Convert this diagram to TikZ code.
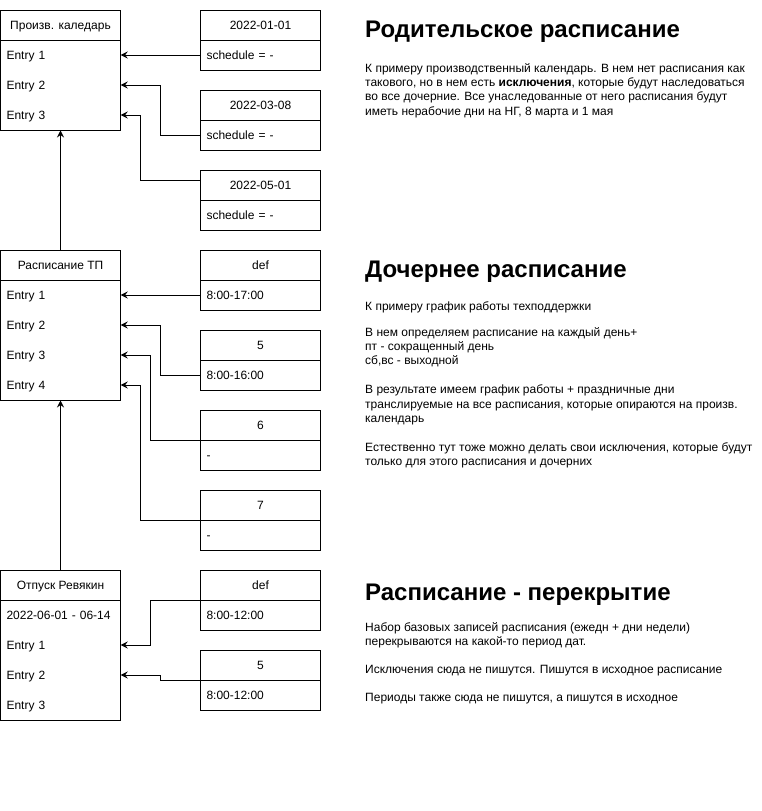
\documentclass[tikz,border=0pt]{standalone}
\usepackage{fontspec}
\setmainfont{Liberation Sans}
\usetikzlibrary{arrows.meta}
\tikzset{
 fs/.style={font=\fontsize{12}{14.4}\selectfont},
 hdr/.style={draw, line width=1pt, minimum width=120pt, minimum height=30pt, inner sep=0pt, text height=9pt, text depth=1pt, fs},
 row/.style={minimum width=120pt, minimum height=30pt, inner xsep=6pt, inner ysep=0pt, text width=108pt, text height=9pt, text depth=1pt, align=left, fs},
 rbody/.style={row, draw, line width=1pt},
 frame/.style={draw, line width=1pt, minimum width=120pt, inner sep=0pt},
 arr/.style={line width=1pt, -{Stealth[length=7pt,width=7pt,inset=2.5pt]}},
 title/.style={anchor=base west, inner sep=0pt, font=\fontsize{24}{28.8}\selectfont\bfseries},
 txt/.style={anchor=base west, inner sep=0pt, fs},
}
\begin{document}
\begin{tikzpicture}[x=1pt,y=-1pt]
\useasboundingbox (0,0) rectangle (761,811);
% box 1
\node[hdr] (ph) at (60.5,25) {Произв. каледарь};
\node[frame, minimum height=90pt] (pbody) at (60.5,85) {};
\node[row] (pe1) at (60.5,55) {Entry 1};
\node[row] (pe2) at (60.5,85) {Entry 2};
\node[row] (pe3) at (60.5,115) {Entry 3};
% box 2
\node[hdr] (qh) at (60.5,265) {Расписание ТП};
\node[frame, minimum height=120pt] (qbody) at (60.5,340) {};
\node[row] (qe1) at (60.5,295) {Entry 1};
\node[row] (qe2) at (60.5,325) {Entry 2};
\node[row] (qe3) at (60.5,355) {Entry 3};
\node[row] (qe4) at (60.5,385) {Entry 4};
% box 3
\node[hdr] (rh) at (60.5,585) {Отпуск Ревякин};
\node[frame, minimum height=120pt] (rbodyf) at (60.5,660) {};
\node[row] (re0) at (60.5,615) {2022-06-01 - 06-14};
\node[row] (re1) at (60.5,645) {Entry 1};
\node[row] (re2) at (60.5,675) {Entry 2};
\node[row] (re3) at (60.5,705) {Entry 3};
% right boxes
\node[hdr] (h1) at (260.5,25) {2022-01-01};
\node[rbody] (b1) at (260.5,55) {schedule = -};
\node[hdr] (h2) at (260.5,105) {2022-03-08};
\node[rbody] (b2) at (260.5,135) {schedule = -};
\node[hdr] (h3) at (260.5,185) {2022-05-01};
\node[rbody] (b3) at (260.5,215) {schedule = -};
\node[hdr] (d1h) at (260.5,265) {def};
\node[rbody] (d1b) at (260.5,295) {8:00-17:00};
\node[hdr] (d2h) at (260.5,345) {5};
\node[rbody] (d2b) at (260.5,375) {8:00-16:00};
\node[hdr] (d3h) at (260.5,425) {6};
\node[rbody] (d3b) at (260.5,455) {-};
\node[hdr] (d4h) at (260.5,505) {7};
\node[rbody] (d4b) at (260.5,535) {-};
\node[hdr] (o1h) at (260.5,585) {def};
\node[rbody] (o1b) at (260.5,615) {8:00-12:00};
\node[hdr] (o2h) at (260.5,665) {5};
\node[rbody] (o2b) at (260.5,695) {8:00-12:00};
% connectors
\draw[arr] (b1.west) -- (pe1.east);
\draw[arr] (b2.west) -- ++(-40,0) |- (pe2.east);
\draw[arr] ([yshift=5pt]h3.west) -- ++(-60,0) |- (pe3.east);
\draw[arr] (d1b.west) -- (qe1.east);
\draw[arr] (d2b.west) -- ++(-40,0) |- (qe2.east);
\draw[arr] (d3h.south west) -- ++(-50,0) |- (qe3.east);
\draw[arr] (d4h.south west) -- ++(-60,0) |- (qe4.east);
\draw[arr] (o1h.south west) -- ++(-50,0) |- (re1.east);
\draw[arr] (o2h.south west) -- ++(-40,0) |- (re2.east);
\draw[arr] (qh.north) -- (pbody.south);
\draw[arr] (rh.north) -- (qbody.south);
% texts
\node[title] (t1) at (365,37) {Родительское расписание};
\node[txt] (s1a) at (365,72) {К примеру производственный календарь. В нем нет расписания как};
\node[txt] (s1b) at (365,86.4) {такового, но в нем есть \textbf{исключения}, которые будут наследоваться};
\node[txt] (s1c) at (365,100.8) {во все дочерние. Все унаследованные от него расписания будут};
\node[txt] (s1d) at (365,115.2) {иметь нерабочие дни на НГ, 8 марта и 1 мая};
\node[title] (t2) at (365,277) {Дочернее расписание};
\node[txt] (s2a) at (365,310) {К примеру график работы техподдержки};
\node[txt] (s2b) at (365,336) {В нем определяем расписание на каждый день+};
\node[txt] (s2c) at (365,350.4) {пт - сокращенный день};
\node[txt] (s2d) at (365,364.8) {сб,вс - выходной};
\node[txt] (s2e) at (365,393.6) {В результате имеем график работы + праздничные дни};
\node[txt] (s2f) at (365,408) {транслируемые на все расписания, которые опираются на произв.};
\node[txt] (s2g) at (365,422.4) {календарь};
\node[txt] (s2h) at (365,451.2) {Естественно тут тоже можно делать свои исключения, которые будут};
\node[txt] (s2i) at (365,465.6) {только для этого расписания и дочерних};
\node[title] (t3) at (365,600) {Расписание - перекрытие};
\node[txt] (s3a) at (365,631) {Набор базовых записей расписания (ежедн + дни недели)};
\node[txt] (s3b) at (365,645.4) {перекрываются на какой-то период дат.};
\node[txt] (s3c) at (365,673) {Исключения сюда не пишутся. Пишутся в исходное расписание};
\node[txt] (s3d) at (365,701) {Периоды также сюда не пишутся, а пишутся в исходное};
\end{tikzpicture}
\end{document}
